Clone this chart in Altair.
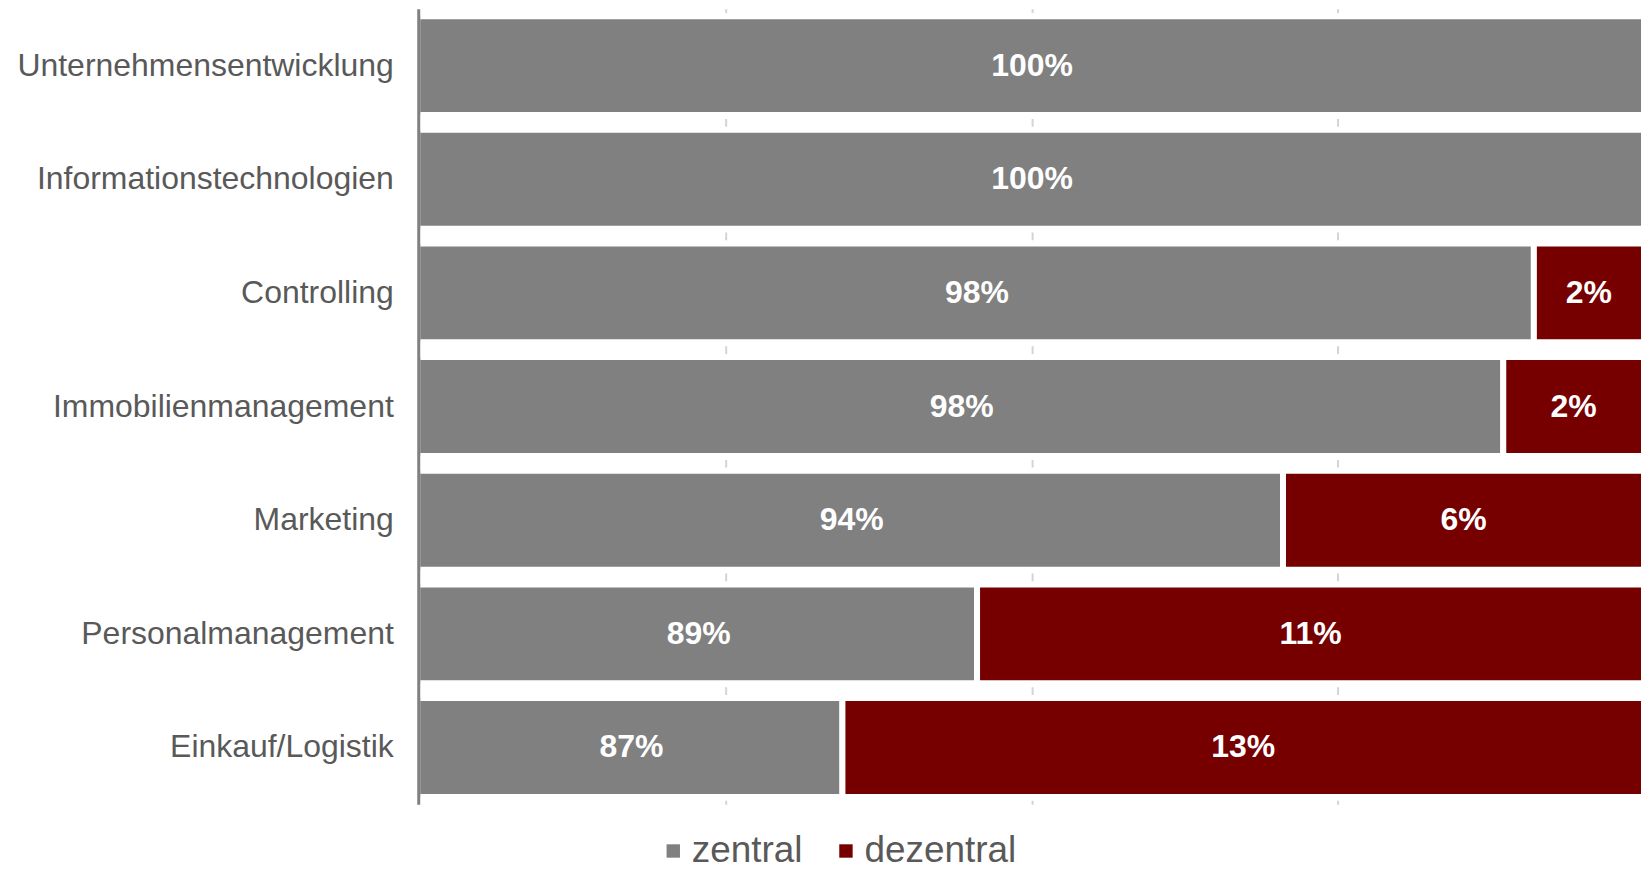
import altair as alt
import pandas as pd

categories = ["Unternehmensentwicklung", "Informationstechnologien", "Controlling",
              "Immobilienmanagement", "Marketing", "Personalmanagement", "Einkauf/Logistik"]
zentral = [1.0, 1.0, 0.982, 0.977, 0.941, 0.891, 0.869]
dezentral = [0.0, 0.0, 0.018, 0.023, 0.059, 0.109, 0.131]
zentral_labels = ["100%", "100%", "98%", "98%", "94%", "89%", "87%"]
dezentral_labels = ["", "", "2%", "2%", "6%", "11%", "13%"]
series = ["zentral", "dezentral"]
colors = ["#808080", "#760000"]
axis_min = 0.8

rows = []
for i, c in enumerate(categories):
    z = zentral[i]
    d = dezentral[i]
    rows.append(dict(cat=c, serie="zentral", start=0.0, end=z,
                     mid=(axis_min + z) / 2, label=zentral_labels[i], order=0))
    if d > 0:
        rows.append(dict(cat=c, serie="dezentral", start=z, end=z + d,
                         mid=z + d / 2, label=dezentral_labels[i], order=1))
df = pd.DataFrame(rows)

FONT = "Liberation Sans"
H = 797
xscale = alt.Scale(domain=[axis_min, 1.0], nice=False, zero=False)
yscale = alt.Scale(domain=categories, paddingInner=0.13, paddingOuter=0.065)

bars = alt.Chart(df).mark_bar(clip=True, stroke="white", strokeWidth=6).encode(
    y=alt.Y("cat:N", scale=yscale, title=None, sort=categories,
            axis=alt.Axis(labelFontSize=32, labelColor="#595959", labelFont=FONT,
                          labelPadding=25, ticks=False, domainColor="#808080",
                          domainWidth=3, labelLimit=500, offset=2, zindex=1)),
    x=alt.X("start:Q", scale=xscale, title=None,
            axis=alt.Axis(values=[0.85, 0.9, 0.95], labels=False, ticks=False,
                          domain=False, grid=True, gridColor="#d4d4d4",
                          gridDash=[8, H / 7 - 8], gridWidth=2, gridDashOffset=4)),
    x2="end:Q",
    color=alt.Color("serie:N", scale=alt.Scale(domain=series, range=colors),
                    title=None,
                    legend=alt.Legend(orient="none", legendX=235, legendY=825,
                                      direction="horizontal", symbolType="square",
                                      symbolSize=180, symbolStrokeWidth=0,
                                      labelFontSize=37, labelColor="#595959",
                                      labelFont=FONT, columnPadding=24,
                                      symbolOffset=0, labelOffset=0)),
)

text = alt.Chart(df).mark_text(color="white", fontWeight="bold", fontSize=32,
                               font=FONT).encode(
    y=alt.Y("cat:N", scale=yscale, sort=categories),
    x=alt.X("mid:Q", scale=xscale),
    text="label:N",
)

chart = (bars + text).properties(
    width=1226, height=H,
    autosize=alt.AutoSizeParams(type="none"),
    padding={"left": 421, "top": 8, "right": 0, "bottom": 66},
).configure_view(stroke=None)

chart.save("out.html", embed_options={"renderer": "svg", "actions": False})
